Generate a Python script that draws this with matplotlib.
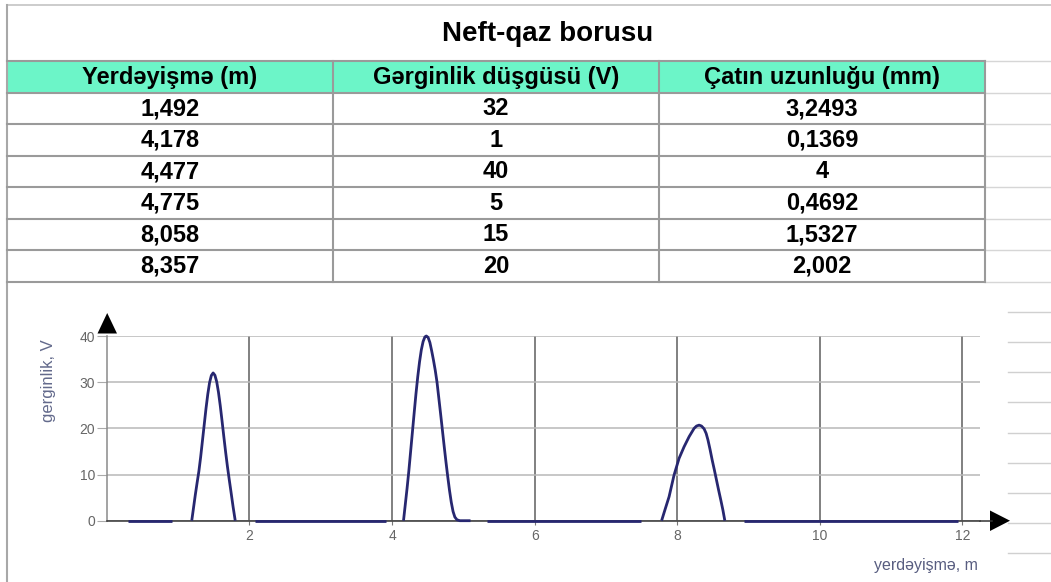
import matplotlib.pyplot as plt
from matplotlib.patches import Rectangle, Polygon

# table data
title = 'Neft-qaz borusu'
headers = ['Yerdəyişmə (m)', 'Gərginlik düşgüsü (V)', 'Çatın uzunluğu (mm)']
displacement = ['1,492', '4,178', '4,477', '4,775', '8,058', '8,357']
voltage_drop = ['32', '1', '40', '5', '15', '20']
crack_length = ['3,2493', '0,1369', '4', '0,4692', '1,5327', '2,002']

# curve, one list per drawn piece
flat1_x = [0.30, 0.92]
flat1_y = [0, 0]
peak1_x = [1.19, 1.215, 1.24, 1.265, 1.29, 1.315, 1.34, 1.365, 1.39, 1.415, 1.44, 1.465, 1.49,
           1.515, 1.54, 1.565, 1.59, 1.615, 1.64, 1.665, 1.69, 1.715, 1.74, 1.77, 1.80]
peak1_y = [0, 2.8, 5.6, 8.2, 10.7, 13.8, 17.3, 20.8, 24.3, 27.4, 29.9, 31.45, 32,
           31.5, 30.1, 27.8, 24.9, 21.6, 18.2, 14.9, 11.8, 9.0, 6.3, 3.0, 0]
flat2_x = [2.08, 3.91]
flat2_y = [0, 0]
peak2_x = [4.16, 4.185, 4.21, 4.235, 4.26, 4.285, 4.31, 4.335, 4.36, 4.385, 4.41, 4.435, 4.46, 4.48,
           4.505, 4.53, 4.555, 4.58, 4.605, 4.63, 4.655, 4.68, 4.705, 4.73, 4.755, 4.78, 4.805,
           4.83, 4.855, 4.88, 4.91, 4.95, 5.10]
peak2_y = [0, 3.5, 7, 10.8, 15, 19.2, 23.4, 27.5, 31.2, 34.4, 37, 38.8, 39.8, 40,
           39.7, 38.6, 36.8, 34.8, 32.6, 30, 26.6, 23.2, 19.7, 16.2, 12.8, 9.6, 6.6,
           4.0, 2.0, 0.8, 0.2, 0, 0]
flat3_x = [5.33, 7.49]
flat3_y = [0, 0]
peak3_x = [7.78, 7.83, 7.885, 7.955, 8.025, 8.095, 8.166, 8.236, 8.27, 8.306, 8.34, 8.376,
           8.405, 8.43, 8.46, 8.49, 8.52, 8.55, 8.58, 8.61, 8.64, 8.667]
peak3_y = [0, 2.5, 5.2, 9.9, 13.5, 16, 18.2, 20, 20.5, 20.7, 20.5, 19.9,
           18.9, 17.5, 15.4, 13.1, 11.0, 8.8, 6.6, 4.5, 2.3, 0]
flat4_x = [8.94, 11.94]
flat4_y = [0, 0]

x_ticks = [2, 4, 6, 8, 10, 12]
y_ticks = [0, 10, 20, 30, 40]

W, H = 1051, 582
fig = plt.figure(figsize=(W / 100, H / 100), dpi=100)

# background layer in pixel coords for the spreadsheet table
bg = fig.add_axes([0, 0, 1, 1], zorder=0)
bg.set_xlim(0, W)
bg.set_ylim(H, 0)
bg.axis('off')

col_edges = [7, 333, 659, 985]
head_top = 61
row_h = 31.5
grid_col = '#9a9a9a'

bg.plot([7, W], [5, 5], color='#c4c4c4', lw=1.2)
bg.plot([7, 7], [5, H], color='#a8a8a8', lw=1.5)
bg.text(548, 34, title, ha='center', va='center', fontsize=20,
        fontweight='bold', family='Liberation Sans')

bg.add_patch(Rectangle((col_edges[0], head_top), col_edges[-1] - col_edges[0], row_h,
                       facecolor='#6cf5c8', edgecolor='none'))
columns = [displacement, voltage_drop, crack_length]
n_rows = len(displacement)
for i in range(n_rows + 2):
        y = head_top + i * row_h
        bg.plot([col_edges[0], col_edges[-1]], [y, y], color=grid_col, lw=1.5)
        bg.plot([col_edges[-1], W], [y, y], color='#d6d6d6', lw=1.0)
for x in col_edges[1:]:
        bg.plot([x, x], [head_top, head_top + (n_rows + 1) * row_h], color=grid_col, lw=1.5)

for c, name in enumerate(headers):
        cx = (col_edges[c] + col_edges[c + 1]) / 2
        bg.text(cx, head_top + row_h / 2 + 1, name, ha='center', va='center',
                fontsize=17, fontweight='bold', family='Liberation Sans')
        for r, val in enumerate(columns[c]):
                bg.text(cx, head_top + (r + 1.5) * row_h + 0.5, val, ha='center', va='center',
                        fontsize=17, fontweight='bold', family='Liberation Sans')

# faint sheet lines at the right of the chart
for i in range(9):
        y = 311.7 + i * 30.2
        bg.plot([1008, W], [y, y], color='#d0d0d0', lw=1.0)

# chart
ax = fig.add_axes([106.9 / W, (H - 520.7) / H, 873.4 / W, 184.7 / H], zorder=1)
ax.patch.set_alpha(0)
ax.set_xlim(0, 12.25)
ax.set_ylim(0, 40)

line_col = '#272770'
for xs, ys in [(flat1_x, flat1_y), (peak1_x, peak1_y), (flat2_x, flat2_y),
               (peak2_x, peak2_y), (flat3_x, flat3_y), (peak3_x, peak3_y),
               (flat4_x, flat4_y)]:
        ax.plot(xs, ys, color=line_col, lw=2.0, clip_on=False, zorder=5,
                solid_capstyle='butt', solid_joinstyle='round')

ax.set_xticks(x_ticks)
ax.set_yticks(y_ticks)
ax.xaxis.grid(True, color='#5e5e5e', lw=1.1)
ax.yaxis.grid(True, color='#b8b8b8', lw=1.1)
ax.set_axisbelow(True)
for s in ['top', 'right']:
        ax.spines[s].set_visible(False)
ax.spines['left'].set_color('#8a8a8a')
ax.spines['left'].set_linewidth(1.1)
ax.spines['bottom'].set_color('#333333')
ax.spines['bottom'].set_linewidth(1.1)

ax.tick_params(axis='y', length=7, width=0.8, color='#aaaaaa', pad=1.5,
               labelsize=10, labelcolor='#666666')
ax.tick_params(axis='x', length=3, width=0.8, color='#777777', pad=3,
               labelsize=10, labelcolor='#666666')
for lab in ax.get_xticklabels() + ax.get_yticklabels():
        lab.set_family('Liberation Sans')

ax.set_ylabel('gerginlik, V', fontsize=12, color='#636a8c', family='Liberation Sans')
ax.yaxis.set_label_coords(-0.058, 0.756)
ax.set_xlabel('yerdəyişmə, m', fontsize=11.5, color='#585d80', family='Liberation Sans')
ax.xaxis.set_label_coords(0.938, -0.202)

# axis arrows
bg.plot([980, 992], [520.7, 520.7], color='#333333', lw=1.1)
bg.add_patch(Polygon([(990, 510.5), (990, 531), (1010, 520.7)], closed=True,
                     facecolor='black', edgecolor='none'))
bg.add_patch(Polygon([(97.5, 333.5), (117, 333.5), (107.2, 313)], closed=True,
                     facecolor='black', edgecolor='none'))

plt.savefig('out.png', dpi=100)
plt.close()
